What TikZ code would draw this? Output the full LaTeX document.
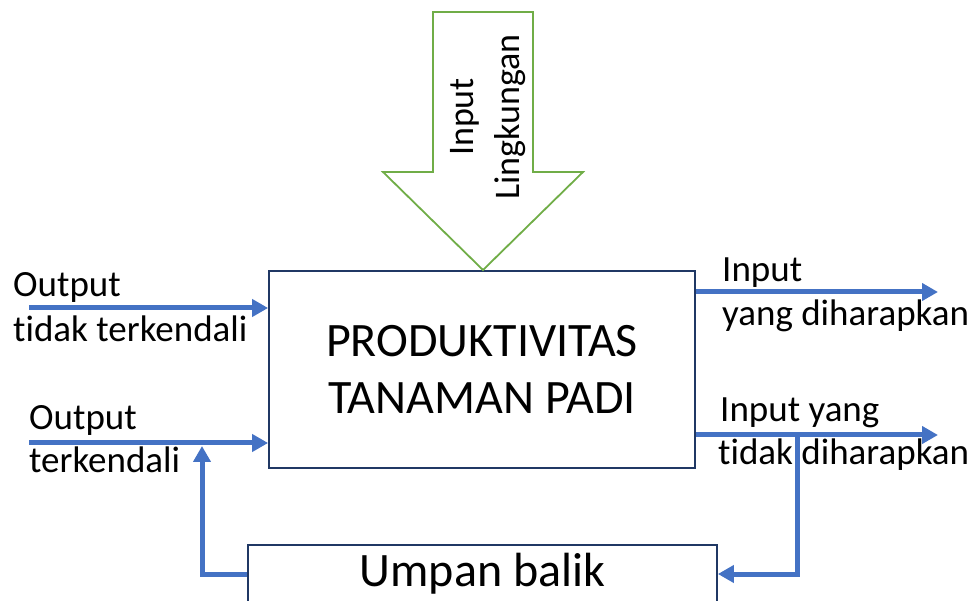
\documentclass[tikz,border=0pt]{standalone}
\usepackage{fontspec}
\setmainfont{Carlito}[Ligatures={NoCommon}, Contextuals={NoAlternate}]
\usetikzlibrary{arrows.meta,calc}
\definecolor{flowblue}{HTML}{4472C4}
\definecolor{boxnavy}{HTML}{203864}
\definecolor{leafgreen}{HTML}{70AD47}
\tikzset{
  mainbox/.style={draw=boxnavy, line width=1.8pt, fill=white, inner sep=0pt, align=center},
  flow/.style={draw=flowblue, line width=5pt, -{Triangle[length=16pt,width=17pt]}},
  lbl/.style={anchor=base west, inner sep=0pt, font=\fontsize{37}{45}\selectfont},
}
\begin{document}
\begin{tikzpicture}[x=1pt,y=-1pt]
\useasboundingbox (0,0) rectangle (970,601);
% main box
\node[mainbox, minimum width=426pt, minimum height=197pt, font=\fontsize{48}{57}\selectfont] (prod) at (482,369.5) {PRODUKTIVITAS\\TANAMAN PADI};
% feedback box
\node[mainbox, minimum width=469pt, minimum height=58pt, font=\fontsize{48}{56}\selectfont] (umpan) at (482.5,574) {Umpan balik};
% green environmental input arrow
\draw[leafgreen, line width=1.8pt, fill=white, line join=miter]
  (433,12) -- (533,12) -- (533,172) -- (583,172) -- (483,270) -- (383,172) -- (433,172) -- cycle;
\node[rotate=90, align=center, inner sep=0pt, font=\fontsize{36}{46}\selectfont] (env) at (488,117) {Input\\Lingkungan};
% coordinates for free ends
\coordinate (l1) at (29,308);
\coordinate (l2) at (29,443);
\coordinate (fbup) at (202,446);
\coordinate (r1) at (938,292);
\coordinate (r2) at (938,435);
\coordinate (split) at (797,435);
% left inputs
\draw[flow] (l1) -- (l1 -| prod.west);
\draw[flow] (l2) -- (l2 -| prod.west);
% right outputs
\draw[flow] (r1 -| prod.east) -- (r1);
\draw[flow] (r2 -| prod.east) -- (r2);
% feedback loop
\draw[flow, line join=miter] (split) |- (umpan.east);
\draw[flow, line join=miter] (umpan.west) -| (fbup);
% labels
\node[lbl] (t1) at (13,297) {Output};
\node[lbl] (t2) at (13,342) {tidak terkendali};
\node[lbl] (t3) at (29,430) {Output};
\node[lbl] (t4) at (29,473) {terkendali};
\node[lbl] (t5) at (722,282) {Input};
\node[lbl] (t6) at (722,326) {yang diharapkan};
\node[lbl] (t7) at (720,422) {Input yang};
\node[lbl] (t8) at (718,465) {tidak diharapkan};
\end{tikzpicture}
\end{document}
